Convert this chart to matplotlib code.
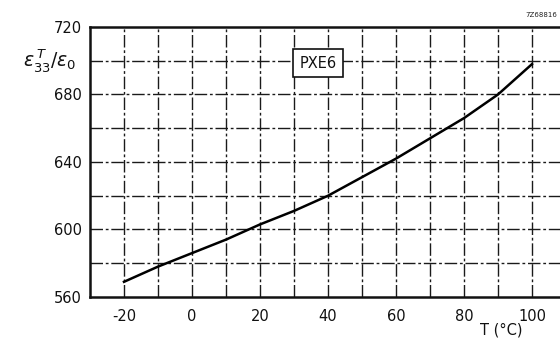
import matplotlib
matplotlib.use("Agg")
import matplotlib.pyplot as plt
from matplotlib.ticker import MultipleLocator

plt.rcParams["axes.unicode_minus"] = False

# Relative permittivity of PXE6 versus temperature
temperature = [-20, -10, 0, 10, 20, 30, 40, 50, 60, 70, 80, 90, 100]
permittivity = [569, 578, 586, 594, 603, 611, 620, 631, 642, 654, 666, 680, 698]

x_ticks = [-20, 0, 20, 40, 60, 80, 100]
y_ticks = [560, 600, 640, 680, 720]

fig = plt.figure(figsize=(5.6, 3.42), dpi=100)
ax = fig.add_axes([0.1607, 0.1316, 0.85, 0.7895])

ax.plot(temperature, permittivity, color="black", lw=1.8, solid_joinstyle="round")

ax.set_xlim(-30, 110)
ax.set_ylim(560, 720)

ax.set_xticks(x_ticks)
ax.set_yticks(y_ticks)

grid_style = dict(color="#1a1a1a", lw=1.0, linestyle=(0, (9, 2, 2, 2)))
for t in range(-20, 110, 10):
    ax.axvline(t, **grid_style, zorder=1)
for v in range(580, 720, 20):
    ax.axhline(v, **grid_style, zorder=1)

ax.tick_params(axis="both", which="both", length=0, labelsize=10.5, colors="#111")
ax.tick_params(axis="x", pad=9)
ax.tick_params(axis="y", pad=6)

for side in ("left", "top", "bottom"):
    ax.spines[side].set_linewidth(1.8)
    ax.spines[side].set_color("#111")
ax.spines["right"].set_visible(False)

# Quantity label placed beside the 700 gridline
ax.text(-34.0, 700, r"$\varepsilon_{33}^{\,T}/\varepsilon_0$", ha="right", va="center",
        fontsize=13.5, color="#111", clip_on=False)

ax.text(91, 540.5, "T (°C)", ha="center", va="center", fontsize=10.5, color="#111",
        clip_on=False)

ax.text(37, 698.5, "PXE6", ha="center", va="center", fontsize=10.5, color="#111",
        bbox=dict(boxstyle="square,pad=0.45", fc="white", ec="#111", lw=1.2), zorder=5)

fig.text(0.995, 0.955, "7Z68816", ha="right", va="center", fontsize=5, color="#222")

fig.savefig("out.png", dpi=100, facecolor="white")
